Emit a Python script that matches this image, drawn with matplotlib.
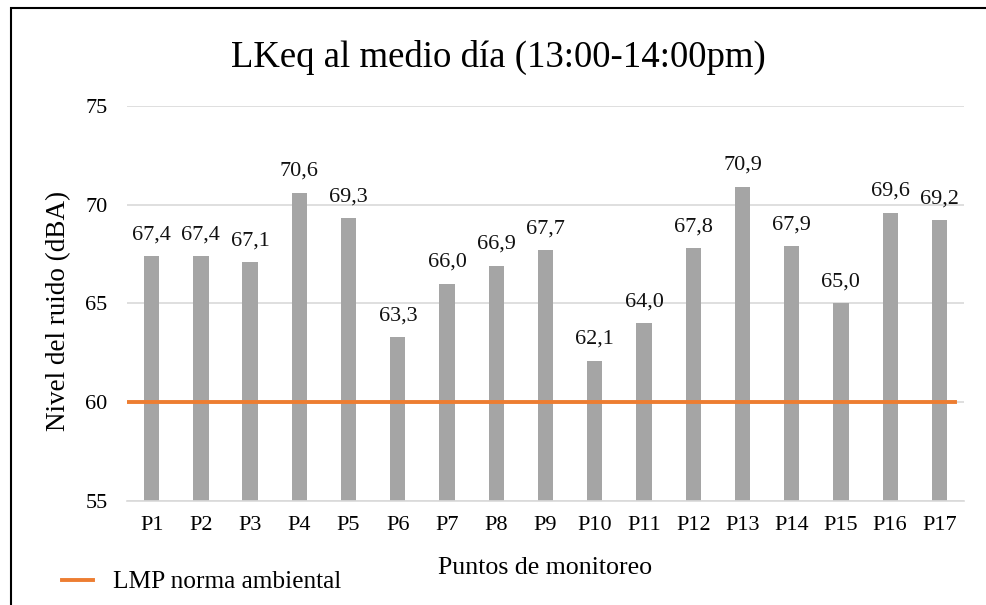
import numpy as np
import matplotlib.pyplot as plt
from matplotlib.patches import Rectangle

# Datos
puntos = ["P1", "P2", "P3", "P4", "P5", "P6", "P7", "P8", "P9", "P10",
          "P11", "P12", "P13", "P14", "P15", "P16", "P17"]
lkeq = [67.4, 67.4, 67.1, 70.6, 69.3, 63.3, 66.0, 66.9, 67.7, 62.1,
        64.0, 67.8, 70.9, 67.9, 65.0, 69.6, 69.2]
lmp = 60

plt.rcParams['font.family'] = ['Liberation Serif', 'DejaVu Serif']

fig = plt.figure(figsize=(9.87, 6.05), dpi=100)
ax = fig.add_axes([0.1287, 0.172, 0.848, 0.653])

x = np.arange(len(puntos))
ax.bar(x, [v - 55 for v in lkeq], bottom=55, width=0.31, color="#a5a5a5", zorder=2)
for xi, v in zip(x, lkeq):
    ax.text(xi, v + 0.6, f"{v:.1f}".replace(".", ","), ha="center", va="bottom",
            fontsize=16, color="#111111")

ax.axhline(lmp, xmin=0.0, xmax=0.989, color="#ed7d31", lw=2.8, zorder=3,
           label="LMP norma ambiental")

ax.set_ylim(55, 75)
ax.set_xlim(-0.5, len(puntos) - 0.5)
ax.set_yticks([55, 60, 65, 70, 75])
ax.set_xticks(x)
ax.set_xticklabels(puntos)
ax.tick_params(axis="both", length=0, labelsize=16)
ax.tick_params(axis="x", pad=11)
ax.tick_params(axis="y", pad=14)
ax.grid(axis="y", color="#d9d9d9", lw=1.2, zorder=0)
for s in ["top", "right", "left"]:
    ax.spines[s].set_visible(False)
ax.spines["bottom"].set_color("#d9d9d9")
ax.spines["bottom"].set_linewidth(1.2)

fig.text(59 / 987, 1 - 311 / 605, "Nivel del ruido (dBA)", rotation=90, ha="center",
         va="center", fontsize=19.5)
fig.text(0.552, 0.061, "Puntos de monitoreo", ha="center", va="center", fontsize=18.6)
fig.text(0.505, 0.905, "LKeq al medio día (13:00-14:00pm)", ha="center", va="center",
         fontsize=26.5)

fig.legend(loc="center left", bbox_to_anchor=(62 / 987, 1 - 582 / 605), frameon=False,
           fontsize=18.3, handlelength=1.2, handletextpad=0.8,
           borderpad=0, borderaxespad=0)

# marco
fig.patches.append(Rectangle((0.011, -0.05), 1.2, 1.036, transform=fig.transFigure,
                             fill=False, edgecolor="black", lw=1.5))

fig.savefig("out.png", dpi=100)
